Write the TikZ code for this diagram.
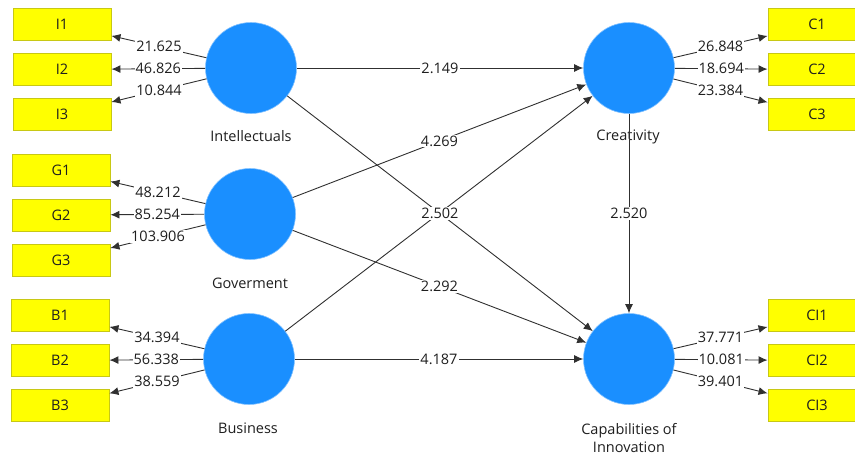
\documentclass[tikz,border=0pt]{standalone}
\usepackage{fontspec}
\setmainfont{Open Sans}
\usetikzlibrary{arrows.meta}
\definecolor{lvblue}{HTML}{1A8FFF}
\definecolor{indyellow}{HTML}{FFFF00}
\definecolor{indborder}{HTML}{C8C814}
\definecolor{linegray}{HTML}{303030}
\definecolor{txt}{HTML}{1E1E1E}
\begin{document}
\begin{tikzpicture}[x=1pt,y=-1pt,
  latent/.style={circle,fill=lvblue,draw=lvblue!55,line width=0.6pt,minimum size=91pt,inner sep=0pt},
  indicator/.style={rectangle,fill=indyellow,draw=indborder,line width=0.9pt,minimum width=98pt,minimum height=32pt,inner sep=0pt,font=\fontsize{14.5}{16}\selectfont,text=txt},
  lvlabel/.style={font=\fontsize{14.5}{18}\selectfont,text=txt,align=center},
  conn/.style={draw=linegray,line width=0.9pt,-{Latex[length=9pt,width=8pt]}},
  val/.style={fill=white,inner sep=1pt,font=\fontsize{14.5}{16}\selectfont,text=txt}]
\useasboundingbox (0,0) rectangle (855,455);
\clip (0,0) rectangle (855,455);
% latent variables
\node[latent] (Int) at (251,68) {};
\node[latent] (Gov) at (250,214) {};
\node[latent] (Bus) at (249,359) {};
\node[latent] (Cre) at (629,68) {};
\node[latent] (Cap) at (629,359) {};
% latent labels
\node[lvlabel] (IntL) at (251,136) {Intellectuals};
\node[lvlabel] (GovL) at (250,283) {Goverment};
\node[lvlabel] (BusL) at (248,428) {Business};
\node[lvlabel] (CreL) at (628,137) {Creativity};
\node[lvlabel] (CapL) at (629,438) {Capabilities of\\Innovation};
% indicators left
\node[indicator] (I1) at (62,24.5) {I1};
\node[indicator] (I2) at (62,69.5) {I2};
\node[indicator] (I3) at (62,114) {I3};
\node[indicator] (G1) at (61,170) {G1};
\node[indicator] (G2) at (61,215) {G2};
\node[indicator] (G3) at (61,260) {G3};
\node[indicator] (B1) at (60,315.5) {B1};
\node[indicator] (B2) at (60,360.5) {B2};
\node[indicator] (B3) at (60,405.5) {B3};
% indicators right
\node[indicator] (C1) at (817,24.5) {C1};
\node[indicator] (C2) at (817,69.5) {C2};
\node[indicator] (C3) at (817,114.5) {C3};
\node[indicator] (CI1) at (817,315.5) {CI1};
\node[indicator] (CI2) at (817,360.5) {CI2};
\node[indicator] (CI3) at (817,405.5) {CI3};
% outer loadings
\draw[conn] (Int) -- node[val]{21.625} (I1);
\draw[conn] (Int) -- node[val]{46.826} (I2);
\draw[conn] (Int) -- node[val]{10.844} (I3);
\draw[conn] (Gov) -- node[val]{48.212} (G1);
\draw[conn] (Gov) -- node[val]{85.254} (G2);
\draw[conn] (Gov) -- node[val]{103.906} (G3);
\draw[conn] (Bus) -- node[val]{34.394} (B1);
\draw[conn] (Bus) -- node[val]{56.338} (B2);
\draw[conn] (Bus) -- node[val]{38.559} (B3);
\draw[conn] (Cre) -- node[val]{26.848} (C1);
\draw[conn] (Cre) -- node[val]{18.694} (C2);
\draw[conn] (Cre) -- node[val]{23.384} (C3);
\draw[conn] (Cap) -- node[val]{37.771} (CI1);
\draw[conn] (Cap) -- node[val]{10.081} (CI2);
\draw[conn] (Cap) -- node[val]{39.401} (CI3);
% structural paths
\draw[conn] (Int) -- node[val]{2.149} (Cre);
\draw[conn] (Gov) -- node[val]{4.269} (Cre);
\draw[conn] (Bus) -- (Cre);
\draw[conn] (Int) -- node[val]{2.502} (Cap);
\draw[conn] (Gov) -- node[val]{2.292} (Cap);
\draw[conn] (Bus) -- node[val]{4.187} (Cap);
\draw[conn] (Cre) -- node[val]{2.520} (Cap);
\end{tikzpicture}
\end{document}
